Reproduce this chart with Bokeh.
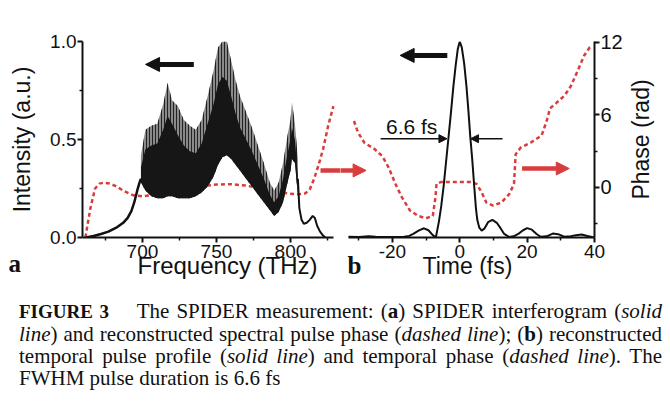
from bokeh.plotting import figure
from bokeh.models import (Range1d, LinearAxis, FixedTicker, Arrow, NormalHead,
                          Label, Div, PrintfTickFormatter, Title)
from bokeh.layouts import row, column
from bokeh.embed import file_html
from bokeh.resources import INLINE

# ---------------- Panel a : SPIDER interferogram ----------------
spec_freq = [699, 702, 706, 710, 714, 717, 720, 724, 728, 732, 736, 740, 744, 748,
             751, 754, 757, 760, 763, 766, 770, 774, 778, 782, 786, 789, 792, 795,
             798, 800, 801, 803, 805]
spec_upper = [0.42, 0.55, 0.57, 0.58, 0.68, 0.79, 0.70, 0.67, 0.60, 0.57, 0.55, 0.60,
              0.72, 0.85, 0.97, 1.00, 1.00, 0.90, 0.80, 0.72, 0.64, 0.56, 0.47, 0.38,
              0.28, 0.24, 0.28, 0.38, 0.52, 0.60, 0.69, 0.58, 0.40]
spec_core = [0.36, 0.45, 0.47, 0.48, 0.55, 0.62, 0.58, 0.52, 0.47, 0.44, 0.43, 0.48,
             0.58, 0.68, 0.78, 0.82, 0.80, 0.72, 0.63, 0.56, 0.50, 0.44, 0.37, 0.30,
             0.22, 0.18, 0.21, 0.30, 0.43, 0.50, 0.56, 0.50, 0.32]
spec_lower = [0.28, 0.24, 0.21, 0.20, 0.20, 0.21, 0.21, 0.20, 0.20, 0.20, 0.21, 0.23,
              0.26, 0.31, 0.37, 0.41, 0.42, 0.40, 0.37, 0.34, 0.30, 0.26, 0.22, 0.18,
              0.14, 0.11, 0.13, 0.18, 0.28, 0.34, 0.40, 0.38, 0.22]
rise_freq = [662, 667, 672, 677, 683, 687, 690, 692.5, 694.5, 696.5, 698, 699]
rise_int = [0.0, 0.008, 0.018, 0.03, 0.053, 0.075, 0.10, 0.135, 0.18, 0.24, 0.28, 0.30]
tail_freq = [805, 806, 807.5, 809, 811, 813, 815, 816.5, 818, 820, 822, 823.5]
tail_int = [0.30, 0.15, 0.09, 0.07, 0.075, 0.09, 0.11, 0.10, 0.06, 0.03, 0.01, 0.0]
sphase_freq = [661.5, 663, 665, 668, 671, 674, 678, 682, 688, 694, 700, 710, 720, 730,
               740, 750, 760, 770, 780, 790, 798, 805, 810, 813, 816, 819, 822, 825.5, 829]
sphase_val = [0.0, 0.07, 0.155, 0.25, 0.275, 0.28, 0.275, 0.262, 0.235, 0.215, 0.21,
              0.22, 0.235, 0.25, 0.262, 0.27, 0.272, 0.265, 0.25, 0.235, 0.225, 0.22,
              0.225, 0.245, 0.30, 0.37, 0.45, 0.57, 0.67]
freq_ticks = [700, 750, 800]
freq_minor = [675, 725, 775, 825]
int_ticks = [0.0, 0.5, 1.0]
int_minor = [0.25, 0.75]

# ---------------- Panel b : temporal profile ----------------
pulse_t = [-33, -30, -27, -25, -22, -19, -16.5, -15, -13.8, -12.1, -10.6, -9.3, -8.0,
           -7.1, -6.2, -5.5, -4.8, -4.1, -3.4, -2.6, -1.9, -1.2, -0.6, 0, 0.6, 1.3, 2.0,
           2.6, 3.1, 3.7, 4.3, 4.8, 5.2, 5.8, 6.5, 7.3, 8.4, 9.7, 11.0, 12.2, 13.2, 14.6,
           16.0, 17.5, 18.8, 20.0, 21.4, 22.8, 24.0, 25.8, 27.6, 29.2, 31.0, 33.0, 34.5,
           36.2, 37.9, 39.2, 40]
pulse_int = [0.004, 0.003, 0.006, 0.004, 0.003, 0.002, 0.004, 0.008, 0.018, 0.036,
             0.047, 0.037, 0.012, 0.0, 0.08, 0.16, 0.26, 0.38, 0.5, 0.64, 0.77, 0.88,
             0.96, 1.0, 0.97, 0.89, 0.77, 0.64, 0.52, 0.40, 0.26, 0.15, 0.09, 0.05,
             0.035, 0.045, 0.078, 0.09, 0.075, 0.045, 0.018, 0.003, 0.006, 0.02, 0.037,
             0.048, 0.04, 0.018, 0.004, 0.006, 0.02, 0.017, 0.004, 0.007, 0.012, 0.015,
             0.008, 0.003, 0.0]
tphase_t = [-31.4, -30.2, -28.3, -25.4, -23.0, -21.1, -19.1, -17.2, -14.8, -12.4, -10.0,
            -8.0, -7.2, -6.9, -5.6, -1.3, 3.1, 5.0, 6.5, 7.9, 9.9, 12.3, 14.7, 16.1,
            16.6, 18.1, 21.0, 24.3, 25.8, 26.8, 28.7, 31.1, 33.0, 35.0, 36.9, 38.6, 39.3]
tphase_rad = [5.5, 4.55, 3.7, 3.2, 2.6, 1.65, 0.3, -0.8, -1.9, -2.35, -2.55, -2.35, -0.8,
              0.3, 0.45, 0.45, 0.45, 0.3, -0.4, -1.25, -1.5, -1.25, -0.55, 0.3, 2.75,
              3.3, 3.7, 4.3, 5.5, 6.55, 7.0, 7.6, 8.4, 9.65, 10.9, 11.6, 11.7]
time_ticks = [-20, 0, 20, 40]
time_minor = [-30, -10, 10, 30]
phase_ticks = [0, 6, 12]
phase_minor = [-3, 3, 9]

INK = "#111111"
RED = "#d83c3c"
SANS = "Liberation Sans"
SERIF = "Liberation Serif"


def style_axis(ax, fs):
    ax.axis_line_width = 2
    ax.axis_line_color = INK
    ax.major_tick_line_width = 2
    ax.major_tick_line_color = INK
    ax.minor_tick_line_width = 1.5
    ax.minor_tick_line_color = INK
    ax.major_tick_out = 5
    ax.major_tick_in = 0
    ax.minor_tick_out = 3
    ax.minor_tick_in = 0
    ax.major_label_text_font = SANS
    ax.major_label_text_font_size = f"{fs}px"
    ax.major_label_text_color = INK
    ax.major_label_standoff = 2
    ax.axis_label_text_font = SANS
    ax.axis_label_text_font_style = "normal"
    ax.axis_label_text_font_size = "23px"
    ax.axis_label_text_color = INK


def panel_letter(txt, off, standoff):
    return Title(text=txt, align="left", vertical_align="top", offset=off,
                 standoff=standoff, text_font=SERIF, text_font_style="bold",
                 text_font_size="25px", text_color=INK)


# ---------------- figure a ----------------
pa = figure(width=340, height=285, x_range=Range1d(659.5, 833.8), y_range=Range1d(0, 1.0),
            output_backend="svg", toolbar_location=None,
            min_border_left=82, min_border_right=0, min_border_top=41, min_border_bottom=48)
pa.outline_line_color = None
pa.grid.visible = False
style_axis(pa.xaxis[0], 19)
style_axis(pa.yaxis[0], 19)
pa.xaxis.ticker = FixedTicker(ticks=freq_ticks, minor_ticks=freq_minor)
pa.xaxis.bounds = (659.5, 829)
pa.yaxis.ticker = FixedTicker(ticks=int_ticks, minor_ticks=int_minor)
pa.yaxis.formatter = PrintfTickFormatter(format="%.1f")
pa.yaxis.axis_label = "Intensity (a.u.)"
pa.yaxis.axis_label_standoff = 12
pa.yaxis.major_label_standoff = 1

pa.line(sphase_freq, sphase_val, line_color=RED, line_width=2.5, line_dash="4 3")
pa.varea(x=spec_freq, y1=spec_lower, y2=spec_upper, fill_color="#8a8a8a",
         hatch_pattern="vertical_line", hatch_color="#222222", hatch_scale=3,
         hatch_weight=1)
pa.varea(x=spec_freq, y1=spec_lower, y2=spec_core, fill_color="#161616")
pa.line(rise_freq, rise_int, line_color=INK, line_width=2.5)
pa.line(tail_freq, tail_int, line_color=INK, line_width=2)

pa.add_layout(Arrow(end=NormalHead(size=14, fill_color=INK, line_color=INK),
                    x_start=734.7, y_start=0.883, x_end=702.1, y_end=0.883,
                    line_width=5, line_color=INK))
pa.segment(x0=[820.3], y0=[0.342], x1=[845], y1=[0.342], line_color=RED, line_width=4.5)
# x-axis title of panel a (set as a title so it can sit right of centre, as in the original)
pa.add_layout(Title(text="Frequency (THz)", align="left", vertical_align="top", offset=55,
                    standoff=-18, text_font=SANS, text_font_style="normal",
                    text_font_size="24px", text_color=INK), "below")
pa.add_layout(panel_letter("a", -74, -44), "below")

# ---------------- figure b ----------------
pb = figure(width=285, height=285, x_range=Range1d(-35.4, 40), y_range=Range1d(0, 1.0),
            y_axis_location=None, output_backend="svg", toolbar_location=None,
            min_border_left=0, min_border_right=30, min_border_top=41, min_border_bottom=48)
pb.outline_line_color = None
pb.grid.visible = False
pb.extra_y_ranges = {"phase": Range1d(-4.14, 12.08)}
style_axis(pb.xaxis[0], 19)
pb.xaxis.ticker = FixedTicker(ticks=time_ticks, minor_ticks=time_minor)
pb.xaxis.bounds = (-33, 40)
pb.xaxis.major_label_overrides = {-20: "-20"}
pb.xaxis.axis_label = "Time (fs)"
pb.xaxis.axis_label_standoff = -8
ax = LinearAxis(y_range_name="phase",
                ticker=FixedTicker(ticks=phase_ticks, minor_ticks=phase_minor))
style_axis(ax, 20)
ax.major_label_standoff = 1
pb.add_layout(ax, "right")

pb.line(tphase_t, tphase_rad, y_range_name="phase", line_color=RED, line_width=2.5,
        line_dash="4 3")
pb.line(pulse_t, pulse_int, line_color=INK, line_width=2)

pb.add_layout(Arrow(end=NormalHead(size=14, fill_color=INK, line_color=INK),
                    x_start=-3.7, y_start=0.929, x_end=-17.7, y_end=0.929,
                    line_width=5, line_color=INK))
pb.add_layout(Arrow(end=NormalHead(size=8, fill_color=INK, line_color=INK),
                    x_start=-23.5, y_start=0.504, x_end=-3.8, y_end=0.504,
                    line_width=1.5, line_color=INK))
pb.add_layout(Arrow(end=NormalHead(size=8, fill_color=INK, line_color=INK),
                    x_start=12.7, y_start=0.504, x_end=3.2, y_end=0.504,
                    line_width=1.5, line_color=INK))
pb.add_layout(Arrow(end=NormalHead(size=13, fill_color=RED, line_color=RED),
                    x_start=18.5, y_start=1.57, x_end=32.5, y_end=1.57,
                    y_range_name="phase", line_width=4.5, line_color=RED))
pb.add_layout(Arrow(end=NormalHead(size=13, fill_color=RED, line_color=RED),
                    x_start=-41, y_start=1.41, x_end=-27.8, y_end=1.41,
                    y_range_name="phase", line_width=4.5, line_color=RED))

pb.add_layout(Label(x=-21.9, y=0.566, text="6.6 fs", text_align="left",
                    text_baseline="alphabetic", text_font=SANS, text_font_size="21px",
                    text_color=INK))
pb.add_layout(panel_letter("b", 7, -60), "below")

# ---------------- phase axis title (reads bottom-to-top) ----------------
pc = figure(width=37, height=285, x_axis_location=None, y_axis_location=None,
            output_backend="svg", toolbar_location=None,
            min_border_left=0, min_border_right=0, min_border_top=41, min_border_bottom=48)
pc.outline_line_color = None
pc.grid.visible = False
pc.add_layout(Title(text="Phase (rad)", align="center", standoff=0,
                    text_font=SANS, text_font_style="normal", text_font_size="23px",
                    text_color=INK), "left")

# ---------------- caption ----------------
J = "text-align:justify;text-align-last:justify;"
caption_html = (
    "<div style=\"margin-left:14px;width:643px;padding-top:10px;"
    "font-family:'Liberation Serif';font-size:21px;line-height:22px;color:#111;\">"
    f"<div style='{J}'><b style='font-size:19px'>FIGURE 3</b>&emsp; The SPIDER measurement: "
    "(<b>a</b>) SPIDER interferogram (<i>solid</i></div>"
    f"<div style='{J}'><i>line</i>) and reconstructed spectral pulse phase "
    "(<i>dashed line</i>); (<b>b</b>) reconstructed</div>"
    f"<div style='{J}'>temporal pulse profile (<i>solid line</i>) and temporal phase "
    "(<i>dashed line</i>). The</div>"
    "<div>FWHM pulse duration is 6.6 fs</div>"
    "</div>"
)
cap = Div(text=caption_html, width=662, height=104)

layout = column(row(pa, pb, pc), cap)
open("out.html", "w").write(file_html(layout, INLINE))
